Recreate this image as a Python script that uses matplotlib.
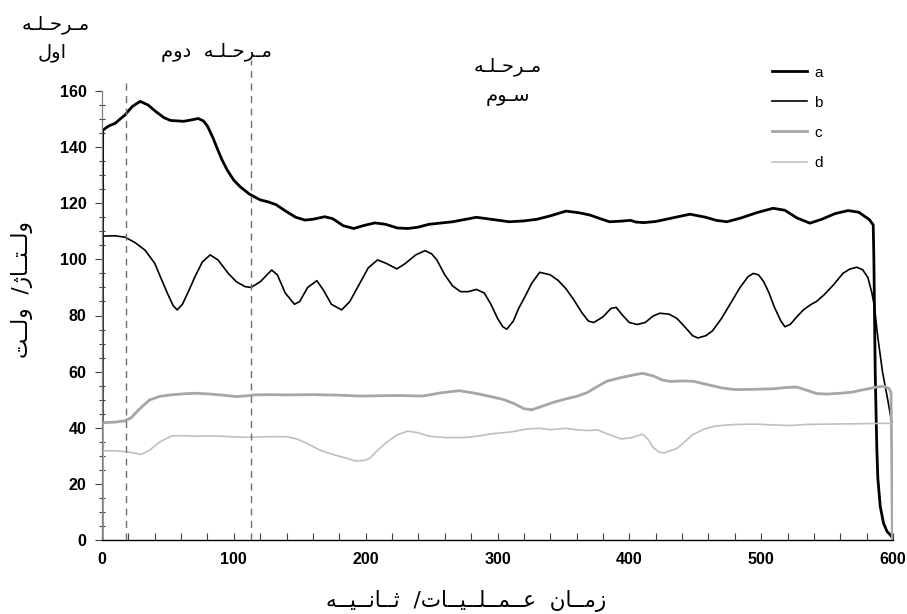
import matplotlib
matplotlib.use("Agg")
import matplotlib.pyplot as plt
from matplotlib import font_manager
from matplotlib.ticker import MultipleLocator

# ---- data -------------------------------------------------------------
t_a = [0, 0.5, 5, 10, 17.5, 23, 29, 35, 41, 47, 52, 62, 69, 73, 77, 80, 84, 87, 91, 95,
       100, 105, 112, 120, 126, 132, 140, 147, 154, 160, 169, 175, 183, 191, 198, 207,
       215, 224, 232, 240, 248, 258, 266, 275, 284, 295, 309, 320, 330, 340, 352, 362,
       370, 378, 385, 393, 401, 405, 411, 420, 430, 446, 458, 466, 474, 485, 497, 509,
       518, 527, 537, 546, 556, 566, 574, 582, 585, 585.5, 586.5, 587.7, 588.5, 590.3,
       592.8, 595.5, 598, 600]
v_a = [0, 146, 147.5, 148.5, 151.5, 154.5, 156.3, 155, 152.6, 150.5, 149.5, 149.2, 149.8,
       150.2, 149.3, 147.5, 143.5, 140, 135.5, 131.8, 128.2, 125.8, 123.2, 121.2, 120.5,
       119.5, 117, 115, 114, 114.3, 115.2, 114.5, 112, 111, 112, 113, 112.5, 111.2, 111,
       111.5, 112.5, 113, 113.4, 114.2, 115, 114.3, 113.4, 113.7, 114.3, 115.5, 117.2,
       116.6, 115.8, 114.5, 113.4, 113.6, 113.9, 113.3, 113.1, 113.5, 114.5, 116.1, 115,
       113.9, 113.4, 114.8, 116.7, 118.2, 117.5, 114.8, 112.9, 114.3, 116.3, 117.4, 116.8,
       114.2, 112.3, 100, 60, 33, 22, 12, 6, 3, 1.8, 0.5]

t_b = [0, 0.5, 10, 17.5, 25, 32.6, 40, 45, 50, 54, 57, 61, 66, 70.5, 76, 82, 88, 95.8,
       102, 108.5, 113, 120, 128.7, 133, 139, 146, 150, 156, 163, 168, 174, 181.8, 188,
       195, 202, 209, 216, 223.6, 230, 238, 245, 250, 254, 260, 266, 272, 278, 284, 290,
       295, 300, 304, 307, 312, 316, 320, 326, 332, 340, 346, 352, 358, 364, 369, 373,
       380, 386, 390, 395, 400, 406, 412, 418, 423, 430, 436, 442, 448, 452, 458, 463,
       470, 477, 484, 490, 494, 498, 502, 506, 510, 515, 518, 522, 527, 532, 538, 542,
       548, 555, 562, 567, 572.5, 577, 581, 584, 586, 588, 592, 596, 599]
v_b = [0, 108.3, 108.4, 107.9, 106, 103.3, 98.6, 93, 87.5, 83.5, 82, 84, 89, 93.8, 99,
       101.6, 99.8, 95, 92, 90.3, 90, 92, 96.2, 94.5, 88, 84, 85, 90, 92.4, 89, 84, 82,
       85, 91, 97, 99.8, 98.5, 96.6, 98.5, 101.6, 103.1, 102, 99.8, 94.5, 90.5, 88.5,
       88.5, 89.3, 88, 84, 79, 76, 75.1, 78, 82.5, 86, 91.5, 95.4, 94.5, 92.5, 89.5, 85.5,
       81, 78, 77.5, 79.5, 82.5, 82.9, 80, 77.5, 76.8, 77.5, 79.8, 80.8, 80.5, 79, 76,
       72.8, 72, 72.8, 74.5, 79, 84.5, 90, 93.8, 95, 94.5, 92, 88, 83, 78, 76, 76.8, 79.5,
       82, 84, 85, 87.5, 91, 95, 96.5, 97.2, 96.3, 93.5, 88, 83, 74, 60, 50, 42]

t_c = [0, 0.5, 10, 17.5, 22, 28, 36, 44, 52, 62, 72, 82, 92, 102, 110, 115, 128, 140,
       160, 180, 196, 211, 225, 243, 258, 271, 283, 295, 305, 313, 320, 326, 333, 342,
       352, 360, 368, 375, 383, 393, 403, 410, 418, 425, 431, 441, 449, 460, 470, 480,
       495, 510, 518, 527, 535, 542, 550, 560, 569, 578, 587.6, 593, 597, 598.5, 599, 599.5]
v_c = [0, 41.8, 42, 42.5, 43.5, 46.5, 49.9, 51.2, 51.7, 52.1, 52.3, 52, 51.6, 51.1, 51.4,
       51.7, 51.8, 51.7, 51.8, 51.6, 51.3, 51.4, 51.5, 51.3, 52.5, 53.2, 52.3, 51.1, 50,
       48.5, 46.8, 46.4, 47.5, 49, 50.3, 51.2, 52.5, 54.5, 56.6, 57.8, 58.8, 59.4, 58.5,
       57, 56.5, 56.7, 56.5, 55.3, 54.2, 53.6, 53.7, 53.9, 54.3, 54.5, 53.3, 52.2, 52,
       52.3, 52.7, 53.6, 54.5, 54.8, 54, 52.5, 30, 0]

t_d = [0, 0.5, 10, 17.5, 24, 30, 36, 44, 52.9, 60, 70, 84.5, 98, 110, 125, 140, 148, 155,
       165, 175, 185, 192, 198, 203, 208, 215, 224, 232, 240, 248, 260, 274, 285, 295,
       310, 323, 332, 340, 352, 360, 368, 376, 385, 394, 402, 410, 414, 418, 422, 426,
       431, 436, 442, 448, 457, 465, 475, 483, 495, 509, 522, 535, 550, 570, 585, 595,
       598.5]
v_d = [0, 31.8, 31.8, 31.5, 31, 30.5, 32, 35, 37.1, 37.2, 37, 37.1, 36.8, 36.6, 36.8,
       36.8, 36, 34.5, 32.1, 30.5, 29.2, 28.2, 28.3, 29, 31.5, 34.5, 37.5, 38.8, 38.2, 37,
       36.5, 36.5, 37, 37.8, 38.5, 39.6, 39.8, 39.3, 39.8, 39.3, 39, 39.2, 37.5, 36, 36.5,
       37.7, 36, 33, 31.5, 31, 31.8, 32.6, 35, 37.5, 39.6, 40.6, 41, 41.2, 41.3, 41, 40.8,
       41.2, 41.3, 41.4, 41.5, 41.6, 41.5]

series_names = ["a", "b", "c", "d"]
phase_bounds = [18, 113]

x_ticks = [0, 100, 200, 300, 400, 500, 600]
y_ticks = [0, 20, 40, 60, 80, 100, 120, 140, 160]

phase1_lines = ["مرحله", "اول"]
phase2_words = ["مرحله", "دوم"]
phase3_lines = ["مرحله", "سوم"]
x_label_words = ["زمان", "عملیات/", "ثانیه"]
y_label_words = ["ولتاژ/", "ولت"]

# ---- minimal Persian shaping (contextual forms, visual order) ----------
FORMS = {
    'ا': ('\uFE8D', '\uFE8E', None, None),
    'ت': ('\uFE95', '\uFE96', '\uFE97', '\uFE98'),
    'ث': ('\uFE99', '\uFE9A', '\uFE9B', '\uFE9C'),
    'ح': ('\uFEA1', '\uFEA2', '\uFEA3', '\uFEA4'),
    'د': ('\uFEA9', '\uFEAA', None, None),
    'ر': ('\uFEAD', '\uFEAE', None, None),
    'ز': ('\uFEAF', '\uFEB0', None, None),
    'س': ('\uFEB1', '\uFEB2', '\uFEB3', '\uFEB4'),
    'ع': ('\uFEC9', '\uFECA', '\uFECB', '\uFECC'),
    'ل': ('\uFEDD', '\uFEDE', '\uFEDF', '\uFEE0'),
    'م': ('\uFEE1', '\uFEE2', '\uFEE3', '\uFEE4'),
    'ن': ('\uFEE5', '\uFEE6', '\uFEE7', '\uFEE8'),
    'ه': ('\uFEE9', '\uFEEA', '\uFEEB', '\uFEEC'),
    'و': ('\uFEED', '\uFEEE', None, None),
    'ژ': ('\uFB8A', '\uFB8B', None, None),
    'ی': ('\uFBFC', '\uFBFD', '\uFBFE', '\uFBFF'),
}
KASHIDA = '\u0640'


def shape_word(word, stretch=0):
    """Visual (left-to-right) glyphs of one Persian word, plus trailing marks.

    `stretch` kashidas are set in every joint, giving the airy, evenly
    spaced look of a fixed-pitch Arabic face."""
    letters = [c for c in word if c in FORMS]
    tail = "".join(c for c in word if c not in FORMS)
    out = []
    for i, ch in enumerate(letters):
        prev = letters[i - 1] if i > 0 else None
        nxt = letters[i + 1] if i + 1 < len(letters) else None
        iso, fin, ini, med = FORMS[ch]
        jp = prev is not None and FORMS[prev][2] is not None
        jn = nxt is not None and ini is not None
        if jp and jn:
            g = med
        elif jp:
            g = fin
        elif jn:
            g = ini
        else:
            g = iso
        out.append(g)
        if jn:
            out.extend([KASHIDA] * stretch)
    return "".join(reversed(out)), tail


def rtl_line(words, stretch=0, gap=" "):
    """Right-to-left line: last word leftmost, trailing marks on the left."""
    parts = []
    for w in reversed(words):
        glyphs, tail = shape_word(w, stretch)
        parts.append(tail + glyphs)
    return gap.join(parts)


FA = ["DejaVu Sans", "DejaVu Sans Mono"]

installed = {f.name for f in font_manager.fontManager.ttflist}
if "Liberation Sans Narrow" in installed:
    TICKFONT, TICKSIZE = "Liberation Sans Narrow", 12.5
else:
    TICKFONT, TICKSIZE = "Liberation Sans", 11.5

# ---- figure ------------------------------------------------------------
W, H = 907, 614
fig = plt.figure(figsize=(W / 100, H / 100), dpi=100)
ax = fig.add_axes([102 / W, 1 - 540 / H, 791 / W, 449 / H])


def fx(px):
    return px / W


def fy(py):
    return 1 - py / H


ax.plot(t_a, v_a, color="black", lw=2.0, label=series_names[0], solid_joinstyle="round")
ax.plot(t_b, v_b, color="black", lw=1.2, label=series_names[1], solid_joinstyle="round")
ax.plot(t_c, v_c, color="#a6a6a6", lw=2.0, label=series_names[2], solid_joinstyle="round")
ax.plot(t_d, v_d, color="#bfbfbf", lw=1.2, label=series_names[3], solid_joinstyle="round")

for xb, top in zip(phase_bounds, [164, 171]):
    ax.plot([xb, xb], [0, top], color="#6f6f6f", lw=1.0, ls=(0, (5, 4)), clip_on=False)

ax.set_xlim(0, 600)
ax.set_ylim(0, 160)
ax.set_xticks(x_ticks)
ax.set_yticks(y_ticks)
ax.xaxis.set_minor_locator(MultipleLocator(20))
ax.yaxis.set_minor_locator(MultipleLocator(5))

for s in ["top", "right"]:
    ax.spines[s].set_visible(False)
ax.spines["left"].set_color("#808080")
ax.spines["left"].set_linewidth(0.9)
ax.spines["bottom"].set_color("black")
ax.spines["bottom"].set_linewidth(1.0)

ax.tick_params(axis="x", which="both", direction="in", length=5, width=0.8, color="#404040")
ax.tick_params(axis="y", which="major", direction="out", length=5, width=0.8, color="#404040")
ax.tick_params(axis="y", which="minor", direction="inout", length=4, width=0.8, color="#404040")

for lab in ax.get_xticklabels() + ax.get_yticklabels():
    lab.set_fontfamily(TICKFONT)
    lab.set_fontweight("bold")
    lab.set_fontsize(TICKSIZE)
ax.tick_params(axis="x", pad=9)
ax.tick_params(axis="y", pad=6)

leg = ax.legend(loc="upper left", bbox_to_anchor=(fx(758), fy(52)),
                bbox_transform=fig.transFigure, frameon=False,
                handlelength=2.3, labelspacing=1.05, handletextpad=0.5,
                prop={"family": "Liberation Sans", "size": 11})

# phase labels
PH = dict(family=FA, fontsize=14, ha="center", va="center")
fig.text(fx(56), fy(24), rtl_line([phase1_lines[0]], 1), **PH)
fig.text(fx(52), fy(52), rtl_line([phase1_lines[1]], 1), **PH)
fig.text(fx(216), fy(52), rtl_line(phase2_words, 1, gap="  "), **PH)
fig.text(fx(508), fy(67), rtl_line([phase3_lines[0]], 1), **PH)
fig.text(fx(508), fy(97), rtl_line([phase3_lines[1]], 1), **PH)

# axis titles
fig.text(fx(466), fy(601), rtl_line(x_label_words, 2, gap="  "), family=FA,
         fontsize=15.5, ha="center", va="center")
fig.text(fx(22), fy(290), rtl_line(y_label_words, 2, gap="  "), family=FA,
         fontsize=15.5, ha="center", va="center", rotation=90)

fig.savefig("out.png", dpi=100)
